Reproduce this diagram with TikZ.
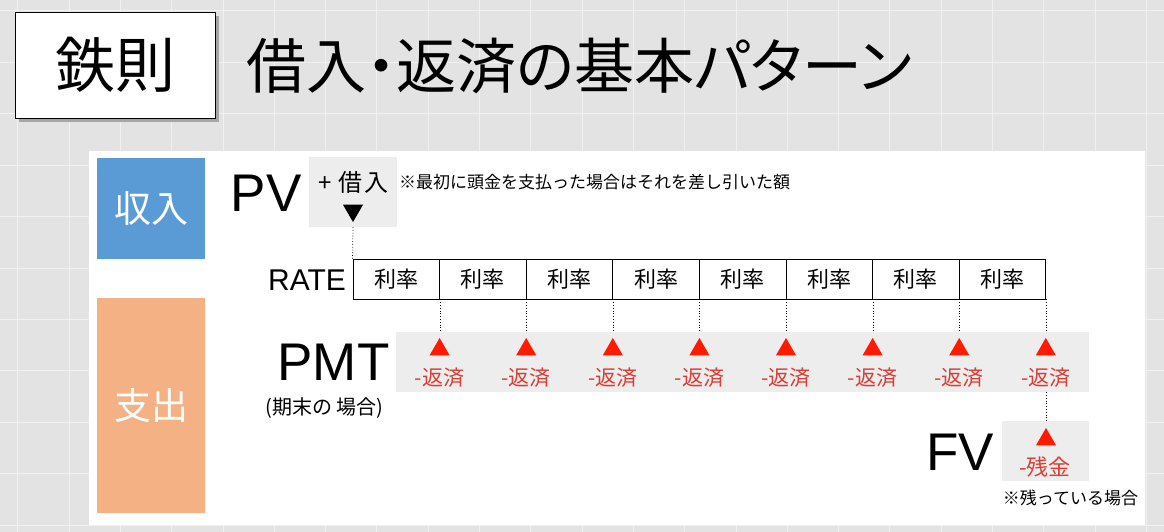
\documentclass[tikz,border=0pt]{standalone}
\usepackage{fontspec}
\setmainfont{Noto Sans CJK JP}
\newfontfamily\titlefont{Noto Sans CJK JP}[RawFeature=+palt]
\newfontfamily\latinfont{Liberation Sans}
\usetikzlibrary{shapes.geometric}
\definecolor{bggray}{HTML}{E3E3E3}
\definecolor{gridline}{HTML}{F1F1F1}
\definecolor{boxgray}{HTML}{EDEDED}
\definecolor{inblue}{HTML}{5B9BD5}
\definecolor{outorange}{HTML}{F4B183}
\definecolor{redtxt}{HTML}{D63F37}
\definecolor{redtri}{HTML}{FF1A00}
\newcommand{\fsz}[1]{\fontsize{#1}{#1}\selectfont}
\tikzset{
  graybox/.style={fill=boxgray, inner sep=0pt},
  ratecell/.style={draw=black, line width=0.9pt, minimum width=86.6pt, minimum height=40pt, inner sep=0pt, font=\fsz{22}},
  bigterm/.style={font=\latinfont\fsz{53}, inner sep=0pt},
  uptri/.style={regular polygon, regular polygon sides=3, fill=redtri, minimum size=23.1pt, inner sep=0pt},
  downtri/.style={regular polygon, regular polygon sides=3, shape border rotate=180, fill=black, minimum size=23.1pt, inner sep=0pt},
  redlabel/.style={text=redtxt, font=\fsz{21}, inner sep=0pt},
  dotline/.style={dotted, line width=0.8pt},
  sidebox/.style={inner sep=0pt, text=white, font=\fsz{37}, minimum width=108pt}
}
\begin{document}
\begin{tikzpicture}[x=1pt,y=-1pt]
\useasboundingbox (0,0) rectangle (1164,532);
% background with grid
\fill[bggray] (0,0) rectangle (1164,532);
\foreach \i in {-4,...,18} \draw[gridline, line width=1pt] ({223+51.3*\i},0) -- ({223+51.3*\i},532);
\foreach \j in {0,...,10} \draw[gridline, line width=1pt] (0,{525-51.4*\j}) -- (1164,{525-51.4*\j});
% title
\fill[gray!70] (19,16) rectangle (219,122);
\node (tbox) [draw=black, line width=0.9pt, fill=white, minimum width=200pt, minimum height=106pt, inner sep=0pt, font=\fsz{60}] at (115,65) {鉄則};
\node (title) [anchor=west, inner sep=0pt, font=\titlefont\fsz{60}] at (246,66) {借入・返済の基本パターン};
% panel
\node (panel) [fill=white, anchor=north west, minimum width=1056pt, minimum height=374pt, inner sep=0pt] at (89,151) {};
\node (inbox) [sidebox, fill=inblue, minimum height=101pt] at (151,208.5) {収入};
\node (outbox) [sidebox, fill=outorange, minimum height=215pt] at (151,405.5) {支出};
% PV
\node (pv) [bigterm] at (266,193) {PV};
\node (pvbox) [graybox, minimum width=88pt, minimum height=70pt] at (353,192) {};
\node (pvtext) [inner sep=0pt, font=\fsz{24}] at (353.5,182) {+\hspace{7pt}借\hspace{1.5pt}入};
\node (pvtri) [downtri] at (353,210.5) {};
\node (note) [anchor=west, inner sep=0pt, font=\fsz{17}] at (399,182) {※最初に頭金を支払った場合はそれを差し引いた額};
% RATE
\node (rate) [font=\latinfont\fsz{30}, inner sep=0pt] at (307,280) {RATE};
\foreach \k in {1,...,8}
  \node (cell\k) [ratecell] at ({353+86.6*(\k-0.5)},279) {利率};
\draw[dotline] (pvbox.south) -- (cell1.north west);
% PMT
\node (pmtbox) [graybox, minimum width=693pt, minimum height=60pt] at (742.5,362) {};
\node (pmt) [bigterm] at (333.5,362.5) {PMT};
\node (pmtnote) [inner sep=0pt, font=\fsz{20}] at (324.5,408) {(期末の 場合)};
\foreach \k in {1,...,8} {
  \draw[dotline] (cell\k.south east) -- (cell\k.south east |- pmtbox.north);
  \node (tri\k) [uptri] at ({353+86.6*\k},349.5) {};
  \node (pay\k) [redlabel] at ({353+86.6*\k},378) {-返済};
}
% FV
\node (fvbox) [graybox, minimum width=87pt, minimum height=60pt] at (1045.5,451) {};
\node (fv) [bigterm] at (960,452) {FV};
\node (fvtri) [uptri] at (1046,439.5) {};
\node (fvlabel) [redlabel, font=\fsz{22}] at (1045,467) {-残金};
\node (fvnote) [inner sep=0pt, font=\fsz{17}] at (1070.5,498) {※残っている場合};
\draw[dotline] (cell8.south east |- pmtbox.south) -- (cell8.south east |- fvbox.north);
\end{tikzpicture}
\end{document}
